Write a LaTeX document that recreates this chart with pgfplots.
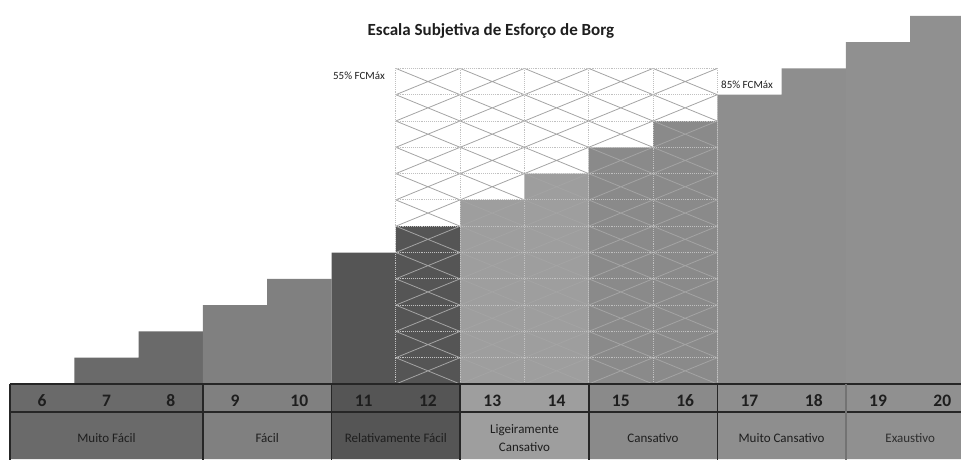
\documentclass[border=0pt]{standalone}
\usepackage{pgfplots}
\pgfplotsset{compat=1.18}
\usepackage{fontspec}
\setmainfont[Numbers=Lining]{Carlito}
\definecolor{gA}{HTML}{6A6A6A}
\definecolor{gB}{HTML}{808080}
\definecolor{gC}{HTML}{555555}
\definecolor{gD}{HTML}{9E9E9E}
\definecolor{gE}{HTML}{8A8A8A}
\definecolor{gF}{HTML}{8E8E8E}
\definecolor{gG}{HTML}{909090}
\definecolor{hatch}{HTML}{A4A4A4}
\definecolor{gridc}{HTML}{C0C0C0}
\definecolor{txt}{HTML}{1E1E1E}
\begin{document}
\begin{tikzpicture}
\begin{axis}[
  x=64.3pt, y=26.3pt,
  xmin=5.3445, xmax=20.29,
  ymin=-2.852, ymax=14.601,
  hide axis,
  clip=true,
  barsty/.style={ybar, bar width=1, bar shift=0pt, draw=none},
]
% table backgrounds
\addplot[barsty, fill=gA] coordinates {(6,-2.852)(7,-2.852)(8,-2.852)};
\addplot[barsty, fill=gB] coordinates {(9,-2.852)(10,-2.852)};
\addplot[barsty, fill=gC] coordinates {(11,-2.852)(12,-2.852)};
\addplot[barsty, fill=gD] coordinates {(13,-2.852)(14,-2.852)};
\addplot[barsty, fill=gE] coordinates {(15,-2.852)(16,-2.852)};
\addplot[barsty, fill=gF] coordinates {(17,-2.852)(18,-2.852)};
\addplot[barsty, fill=gG] coordinates {(19,-2.852)(20,-2.852)(21,-2.852)};
% bars
\addplot[barsty, fill=gA] coordinates {(7,1)(8,2)};
\addplot[barsty, fill=gB] coordinates {(9,3)(10,4)};
\addplot[barsty, fill=gC] coordinates {(11,5)(12,6)};
\addplot[barsty, fill=gD] coordinates {(13,7)(14,8)};
\addplot[barsty, fill=gE] coordinates {(15,9)(16,10)};
\addplot[barsty, fill=gF] coordinates {(17,11)(18,12)};
\addplot[barsty, fill=gG] coordinates {(19,13)(20,14)};
% hatch diagonals
\addplot[sharp plot, hatch, line width=0.8pt, unbounded coords=jump, mark=none] coordinates {
(15.5,0)(16.5,1)(nan,nan)
(14.5,0)(16.5,2)(nan,nan)
(13.5,0)(16.5,3)(nan,nan)
(12.5,0)(16.5,4)(nan,nan)
(11.5,0)(16.5,5)(nan,nan)
(11.5,1)(16.5,6)(nan,nan)
(11.5,2)(16.5,7)(nan,nan)
(11.5,3)(16.5,8)(nan,nan)
(11.5,4)(16.5,9)(nan,nan)
(11.5,5)(16.5,10)(nan,nan)
(11.5,6)(16.5,11)(nan,nan)
(11.5,7)(16.5,12)(nan,nan)
(11.5,8)(15.5,12)(nan,nan)
(11.5,9)(14.5,12)(nan,nan)
(11.5,10)(13.5,12)(nan,nan)
(11.5,11)(12.5,12)(nan,nan)
(12.5,0)(11.5,1)(nan,nan)
(13.5,0)(11.5,2)(nan,nan)
(14.5,0)(11.5,3)(nan,nan)
(15.5,0)(11.5,4)(nan,nan)
(16.5,0)(11.5,5)(nan,nan)
(16.5,1)(11.5,6)(nan,nan)
(16.5,2)(11.5,7)(nan,nan)
(16.5,3)(11.5,8)(nan,nan)
(16.5,4)(11.5,9)(nan,nan)
(16.5,5)(11.5,10)(nan,nan)
(16.5,6)(11.5,11)(nan,nan)
(16.5,7)(11.5,12)(nan,nan)
(16.5,8)(12.5,12)(nan,nan)
(16.5,9)(13.5,12)(nan,nan)
(16.5,10)(14.5,12)(nan,nan)
(16.5,11)(15.5,12)
};
% dotted grid
\addplot[sharp plot, gridc, line width=0.9pt, densely dotted, unbounded coords=jump, mark=none] coordinates {
(11.5,1)(16.5,1)(nan,nan)
(11.5,2)(16.5,2)(nan,nan)
(11.5,3)(16.5,3)(nan,nan)
(11.5,4)(16.5,4)(nan,nan)
(11.5,5)(16.5,5)(nan,nan)
(11.5,6)(16.5,6)(nan,nan)
(11.5,7)(16.5,7)(nan,nan)
(11.5,8)(16.5,8)(nan,nan)
(11.5,9)(16.5,9)(nan,nan)
(11.5,10)(16.5,10)(nan,nan)
(11.5,11)(16.5,11)(nan,nan)
(11.5,12)(16.5,12)(nan,nan)
(11.5,0)(11.5,12)(nan,nan)
(12.5,0)(12.5,12)(nan,nan)
(13.5,0)(13.5,12)(nan,nan)
(14.5,0)(14.5,12)(nan,nan)
(15.5,0)(15.5,12)(nan,nan)
(16.5,0)(16.5,12)
};
% table lines
\addplot[sharp plot, black!85, line width=1.6pt, unbounded coords=jump, mark=none] coordinates {
(5.5,0)(20.4,0)(nan,nan)
(5.5,-1.065)(20.4,-1.065)(nan,nan)
(5.5,0)(5.5,-3)(nan,nan)
(8.5,0)(8.5,-3)(nan,nan)
(10.5,0)(10.5,-3)(nan,nan)
(12.5,0)(12.5,-3)(nan,nan)
(14.5,0)(14.5,-3)(nan,nan)
(16.5,0)(16.5,-3)
};
\addplot[sharp plot, black!55, line width=1.2pt, mark=none] coordinates {(18.5,0)(18.5,-3)};
% texts
\node[font=\fontsize{17}{20}\selectfont\bfseries, text=txt] at (axis cs:12.98,13.42) {Escala Subjetiva de Esforço de Borg};
\node[font=\fontsize{11}{12}\selectfont, text=txt, anchor=east, inner sep=0pt] at (axis cs:11.332,11.71) {55\% FCMáx};
\node[font=\fontsize{11}{12}\selectfont, text=txt, anchor=west, inner sep=0pt] at (axis cs:16.557,11.37) {85\% FCMáx};
\pgfplotsinvokeforeach{6,...,20}{
  \node[font=\fontsize{17.5}{20}\selectfont\bfseries, text=txt, anchor=base, inner sep=0pt] at (axis cs:#1,-0.84) {#1};
}
\node[font=\fontsize{13}{15}\selectfont, text=txt] at (axis cs:7,-2.05) {Muito Fácil};
\node[font=\fontsize{13}{15}\selectfont, text=txt] at (axis cs:9.5,-2.05) {Fácil};
\node[font=\fontsize{13}{15}\selectfont, text=txt] at (axis cs:11.5,-2.05) {Relativamente Fácil};
\node[font=\fontsize{13}{18}\selectfont, text=txt, align=center] at (axis cs:13.5,-2.05) {Ligeiramente\\Cansativo};
\node[font=\fontsize{13}{15}\selectfont, text=txt] at (axis cs:15.5,-2.05) {Cansativo};
\node[font=\fontsize{13}{15}\selectfont, text=txt] at (axis cs:17.5,-2.05) {Muito Cansativo};
\node[font=\fontsize{13}{15}\selectfont, text=black!82] at (axis cs:19.5,-2.05) {Exaustivo};
\end{axis}
\pgfresetboundingbox
\path (current axis.south west) rectangle (current axis.north east);
\end{tikzpicture}
\end{document}
